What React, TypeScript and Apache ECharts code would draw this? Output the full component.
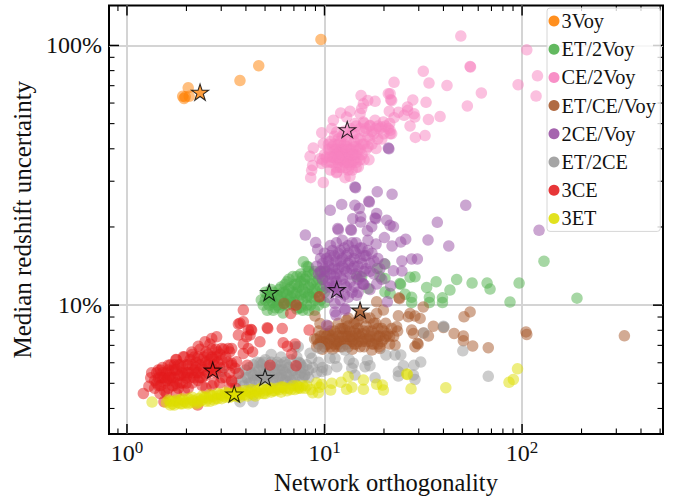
import React, { useEffect, useRef } from "react";
import * as echarts from "echarts";

// Readings from the picture, as [log10(orthogonality), log10(uncertainty %)]
const voy3 = [[.982,2.023],[.667,1.922],[.572,1.865],[.310,1.837],[.282,1.804],[.289,1.796],[.315,1.804],[.295,1.802]];
const et2voy = [[.68,1.02],[.69,1.00],[.70,1.05],[.71,.98],[.72,1.03],[.73,1.06],[.74,1.01],[.75,.99],[.76,1.04],[.77,1.02],[.78,1.07],[.79,1.00],[.80,1.05],[.81,1.09],[.82,1.02],[.83,1.07],[.84,1.00],[.84,1.11],[.85,1.04],[.86,1.08],[.87,1.02],[.88,1.12],[.88,.99],[.89,1.06],[.90,1.10],[.91,1.03],[.91,1.15],[.92,1.07],[.93,1.00],[.94,1.12],[.94,1.05],[.95,.98],[.96,1.09],[.97,1.03],[.98,1.13],[.99,1.06],[1.00,1.01],[.86,.985],[.79,.97],[.893,1.167],[.918,1.147],[1.267,1.141],[1.306,1.158],[1.281,1.109],[1.306,1.103],[1.382,1.083],[1.385,1.08],[1.433,1.107],[1.458,1.109],[1.565,1.090],[1.517,1.068],[1.669,1.099],[1.635,1.058],[1.531,1.030],[1.597,1.028],[1.441,1.030],[1.408,1.042],[1.306,1.051],[1.332,1.045],[1.188,1.109],[1.163,1.109],[1.222,1.064],[1.747,1.085],[1.823,1.085],[1.838,1.062],[1.939,1.012],[1.985,1.085],[2.278,1.027],[2.111,1.169],[1.441,1.01],[1.531,1.01],[1.597,1.01],
[.70,1.02],[.71,1.04],[.72,1.00],[.73,1.02],[.74,1.05],[.75,1.03],[.76,1.00],[.77,1.06],[.78,1.03],[.79,1.05],[.80,1.01],[.80,1.08],[.81,1.04],[.82,1.06],[.82,1.10],[.83,1.03],[.84,1.05],[.85,1.08],[.85,1.01],[.86,1.05],[.86,1.11],[.87,1.07],[.87,.99],[.88,1.04],[.88,1.09],[.89,1.02],[.89,1.11],[.90,1.05],[.90,1.08],[.91,1.00],[.91,1.11],[.92,1.04],[.92,1.13],[.93,1.08],[.93,1.03],[.94,1.09],[.95,1.02],[.95,1.06],[.95,1.13],[.96,1.05],[.97,1.00],[.97,1.10],[.98,1.07],[.98,1.02],[.99,1.10],[1.00,1.05],[1.00,1.13],[.83,1.01],[.81,1.00],[.77,.99],[.74,.98],[.92,.98],[.89,.98]];
const ce2voy = [[1.690,2.036],[2.024,1.983],[1.737,1.919],[1.739,1.917],[2.078,1.883],[1.980,1.849],[1.500,1.901],[1.529,1.855],[1.620,1.846],[1.352,1.858],[1.794,1.817],[2.071,1.805],[1.723,1.767],[1.447,1.790],[1.514,1.781],[1.420,1.763],[1.421,1.750],[1.374,1.743],[1.453,1.737],[1.457,1.724],[1.403,1.731],[1.352,1.722],[1.585,1.726],[1.526,1.715],[1.433,1.690],[1.509,1.653],[1.460,1.646],[1.340,1.788],[1.332,1.814],[1.340,1.660],[1.332,1.673],[1.323,1.814],[1.335,1.791],[1.185,1.807],[1.256,1.785],[1.219,1.788],[1.197,1.776],[1.188,1.757],[1.328,1.747],[1.180,1.737],[1.129,1.747],[1.082,1.740],[1.112,1.724],[1.045,1.712],[.986,1.664],[1.037,1.680],[1.332,1.660],[1.298,1.705],[1.256,1.712],[1.323,1.680],[1.290,1.686],[1.230,1.692],[1.197,1.705],[1.154,1.699],[1.062,1.667],[.943,1.605],[.927,1.573],[.977,1.564],[.940,1.538],[.935,1.519],[.930,1.491],[.994,1.472],[1.062,1.513],[1.104,1.491],[1.129,1.496],[1.171,1.532],[1.225,1.560],[1.261,1.603],[.994,1.622],[.986,1.545],[1.00,1.58],[1.02,1.62],[1.03,1.55],[1.05,1.60],[1.05,1.65],[1.06,1.56],[1.07,1.62],[1.08,1.53],[1.08,1.58],[1.09,1.65],[1.10,1.60],[1.10,1.55],[1.11,1.63],[1.12,1.57],[1.12,1.52],[1.13,1.60],[1.14,1.66],[1.14,1.55],[1.15,1.61],[1.16,1.58],[1.17,1.64],[1.18,1.56],[1.19,1.62],[1.20,1.67],[1.21,1.60],[1.22,1.65],[1.24,1.62],[1.25,1.66],[1.27,1.64],[1.03,1.59],[1.04,1.57],[1.07,1.59],[1.09,1.56],[1.11,1.58],[1.13,1.56],[1.15,1.58],[1.17,1.60],[1.01,1.55],[.99,1.56],[1.06,1.53],[1.10,1.67],[1.16,1.69],[1.13,1.68],[1.20,1.70],[1.23,1.69],[1.28,1.68],[1.30,1.66],[1.16,1.53],
[1.01,1.57],[1.02,1.60],[1.03,1.52],[1.04,1.55],[1.04,1.61],[1.05,1.57],[1.06,1.60],[1.06,1.51],[1.07,1.55],[1.07,1.64],[1.08,1.60],[1.08,1.56],[1.09,1.53],[1.09,1.60],[1.10,1.62],[1.10,1.58],[1.11,1.53],[1.11,1.56],[1.12,1.60],[1.12,1.64],[1.13,1.54],[1.13,1.58],[1.14,1.60],[1.14,1.52],[1.15,1.56],[1.15,1.63],[1.16,1.55],[1.16,1.61],[1.17,1.57],[1.18,1.60],[1.18,1.64],[1.19,1.58],[1.20,1.62],[1.20,1.56],[1.22,1.61],[1.23,1.64],[1.06,1.58],[1.03,1.57],[1.09,1.58],[1.12,1.55],[1.05,1.62],[1.07,1.57],[1.14,1.58],[1.11,1.61],[1.24,1.67],[1.26,1.68],[1.18,1.68],[1.15,1.66],[1.21,1.68],[1.08,1.63],[1.03,1.63],[1.29,1.64],[1.31,1.69],[1.27,1.69],[1.33,1.70]];
const etCeVoy = [[2.518,.882],[2.020,.897],[2.024,.887],[1.829,.836],[1.750,.843],[1.703,.881],[1.703,.863],[1.656,.891],[1.602,.914],[1.737,.974],[1.706,.955],[1.551,.919],[1.500,.893],[1.526,.881],[1.470,.853],[1.474,.850],[1.458,.840],[1.450,.891],[1.441,.904],[1.433,.968],[1.458,.958],[1.484,.949],[1.500,.993],[1.424,.955],[1.374,.959],[1.365,.917],[1.357,.846],[1.239,.827],[1.281,.833],[.952,.958],[.977,.929],[1.264,.968],[1.298,.981],[1.264,1.013],[1.112,.942],[1.377,1.028],[1.38,1.025],[.795,1.006],[.95,.87],[.96,.84],[.97,.90],[.98,.86],[.99,.83],[1.00,.89],[1.01,.85],[1.02,.92],[1.03,.87],[1.04,.83],[1.05,.90],[1.06,.86],[1.07,.93],[1.08,.84],[1.09,.88],[1.10,.91],[1.11,.85],[1.12,.95],[1.13,.87],[1.14,.83],[1.15,.90],[1.16,.93],[1.17,.86],[1.18,.96],[1.19,.89],[1.20,.84],[1.21,.92],[1.22,.87],[1.23,.95],[1.24,.90],[1.25,.85],[1.26,.93],[1.27,.88],[1.28,.84],[1.29,.91],[1.30,.87],[1.31,.93],[1.32,.89],[1.33,.85],[1.34,.91],[1.00,.86],[1.03,.90],[1.06,.84],[1.08,.91],[1.11,.88],[1.14,.86],[1.17,.89],[1.20,.87],[1.23,.86],[1.10,.86],[1.05,.85],[1.15,.85],
[.96,.87],[.97,.85],[.98,.88],[.99,.86],[1.00,.84],[1.01,.88],[1.02,.85],[1.02,.89],[1.03,.84],[1.04,.88],[1.05,.87],[1.06,.89],[1.07,.85],[1.07,.88],[1.08,.86],[1.09,.84],[1.09,.91],[1.10,.88],[1.11,.90],[1.12,.84],[1.12,.88],[1.13,.90],[1.14,.88],[1.15,.87],[1.16,.85],[1.16,.89],[1.17,.91],[1.18,.84],[1.18,.88],[1.19,.86],[1.20,.90],[1.21,.86],[1.22,.90],[1.23,.88],[1.24,.85],[1.25,.89],[1.26,.87],[1.27,.85],[1.27,.91],[1.28,.88],[1.29,.86],[1.30,.90],[1.31,.88],[1.33,.88],[1.12,.92],[1.17,.94],[1.21,.95],[1.25,.93],[1.15,.93],[1.35,.88],[1.37,.90]];
const ce2Voy2 = [[1.323,1.605],[1.326,1.602],[1.154,1.455],[1.157,1.452],[1.267,1.437],[1.342,1.427],[1.224,1.400],[1.227,1.397],[1.087,1.388],[1.029,1.365],[1.154,1.385],[1.176,1.372],[1.264,1.353],[1.256,1.336],[1.259,1.333],[1.143,1.333],[1.183,1.340],[1.183,1.320],[1.315,1.327],[1.332,1.308],[1.349,1.302],[1.571,1.319],[1.239,1.302],[1.217,1.286],[1.067,1.295],[1.070,1.290],[1.133,1.291],[1.136,1.288],[.903,1.270],[1.303,1.260],[1.524,1.251],[1.629,1.228],[1.411,1.254],[1.386,1.243],[1.342,1.228],[.955,1.241],[.965,1.215],[1.261,1.235],[1.392,1.170],[1.441,1.178],[1.470,1.178],[1.349,1.132],[1.392,1.131],[1.303,1.159],[1.335,1.074],[1.264,1.081],[1.318,1.013],[1.193,1.083],[1.196,1.080],[1.163,1.038],[1.053,1.006],[1.053,.974],[1.104,.981],[2.086,1.288],[1.715,1.385],[1.011,.923],[1.104,.987],[1.058,.962],[.96,1.15],[.97,1.12],[.98,1.18],[.99,1.10],[1.00,1.14],[1.00,1.20],[1.01,1.07],[1.02,1.17],[1.03,1.12],[1.03,1.23],[1.04,1.09],[1.05,1.19],[1.05,1.15],[1.06,1.24],[1.06,1.12],[1.07,1.05],[1.08,1.17],[1.08,1.21],[1.09,1.10],[1.09,1.25],[1.10,1.14],[1.11,1.19],[1.11,1.07],[1.12,1.23],[1.13,1.12],[1.13,1.17],[1.14,1.05],[1.15,1.21],[1.15,1.15],[1.16,1.24],[1.17,1.10],[1.18,1.18],[1.19,1.22],[1.20,1.13],[1.20,1.08],[1.21,1.19],[1.22,1.25],[1.23,1.16],[1.24,1.20],[1.25,1.12],[1.27,1.18],[1.28,1.14],[1.29,1.10],[1.02,1.03],[1.08,1.02],[1.12,1.03],[1.17,1.05],[1.23,1.06],
[.98,1.13],[.99,1.16],[1.00,1.11],[1.01,1.18],[1.01,1.13],[1.02,1.09],[1.02,1.15],[1.03,1.19],[1.04,1.14],[1.04,1.21],[1.05,1.11],[1.05,1.07],[1.06,1.17],[1.07,1.14],[1.07,1.20],[1.08,1.11],[1.09,1.15],[1.09,1.18],[1.10,1.22],[1.10,1.08],[1.11,1.13],[1.12,1.16],[1.12,1.20],[1.13,1.09],[1.14,1.14],[1.14,1.24],[1.15,1.18],[1.16,1.12],[1.16,1.20],[1.17,1.15],[1.18,1.22],[1.18,1.11],[1.19,1.16],[1.20,1.19],[1.21,1.14],[1.22,1.21],[1.23,1.13],[1.25,1.17],[1.03,1.07],[1.06,1.09],[1.15,1.07],[1.10,1.04]];
const et2ce = [[1.700,.824],[1.829,.726],[1.602,.919],[1.605,.916],[1.504,.893],[1.487,.781],[1.453,.769],[1.399,.767],[1.458,.714],[1.450,.731],[1.374,.744],[1.374,.727],[1.386,.808],[1.357,.808],[1.311,.808],[1.256,.720],[1.217,.788],[1.205,.763],[1.230,.767],[1.154,.731],[1.146,.776],[1.125,.79],[1.138,.757],[1.053,.795],[1.062,.763],[1.028,.795],[1.011,.750],[.986,.744],[.935,.795],[.918,.750],[.901,.731],[.876,.776],[1.104,.827],[.977,.833],[.851,.840],[.60,.72],[.62,.76],[.63,.70],[.65,.74],[.66,.78],[.67,.71],[.69,.75],[.70,.79],[.71,.72],[.72,.76],[.73,.81],[.74,.70],[.75,.74],[.76,.78],[.77,.72],[.78,.80],[.79,.75],[.80,.71],[.81,.77],[.82,.73],[.83,.79],[.84,.71],[.85,.75],[.86,.80],[.87,.73],[.88,.77],[.89,.72],[.63,.74],[.66,.73],[.68,.77],[.70,.74],[.74,.76],[.77,.75],[.80,.74],[.57,.74],[.59,.69],[.55,.70],[.572,.628],[.638,.628],[.479,.744],[.673,.777],[.867,.840],[.927,.815],
[.58,.71],[.60,.75],[.61,.72],[.62,.70],[.64,.73],[.64,.77],[.65,.71],[.67,.75],[.68,.72],[.69,.78],[.70,.71],[.71,.76],[.72,.73],[.73,.78],[.74,.72],[.75,.77],[.76,.71],[.76,.75],[.78,.73],[.78,.77],[.79,.71],[.80,.78],[.81,.73],[.82,.76],[.83,.71],[.84,.75],[.85,.72],[.86,.76],[.87,.78],[.88,.74],[.89,.76],[.90,.73],[.91,.77],[.92,.72],[.94,.76],[.96,.74],[.97,.78],[.99,.76]];
const ce3 = [[.974,1.032],[.856,1.000],[.829,.968],[.710,.913],[.713,.910],[.786,.910],[.673,.859],[.791,.855],[.851,.850],[.812,.842],[.834,.812],[.922,.904],[.631,.904],[.623,.885],[.724,.769],[.856,.767],[.609,.769],[.572,.930],[.564,.885],[.614,.904],[.606,.878],[.589,.850],[.636,.820],[.614,.833],[.589,.814],[.555,.782],[.530,.769],[.564,.737],[.530,.705],[.530,.833],[.589,.981],[.589,.936],[.564,.927],[.628,.906],[.083,.660],[.111,.688],[.125,.740],[.167,.660],[.187,.628],[.358,.615],[.454,.878],[.429,.872],[.395,.859],[.361,.842],[.328,.820],[.285,.801],[.248,.791],[.209,.769],[.158,.750],[.513,.833],[.479,.833],[.530,.776],[.547,.757],[.14,.71],[.15,.74],[.16,.69],[.17,.72],[.18,.76],[.19,.70],[.20,.74],[.21,.68],[.22,.77],[.23,.72],[.24,.75],[.24,.69],[.25,.79],[.26,.73],[.27,.77],[.28,.70],[.29,.80],[.30,.74],[.31,.77],[.31,.68],[.32,.72],[.33,.81],[.34,.75],[.35,.78],[.36,.71],[.37,.83],[.38,.76],[.39,.80],[.40,.73],[.41,.77],[.42,.85],[.43,.80],[.44,.75],[.45,.83],[.46,.78],[.47,.81],[.48,.72],[.49,.76],[.50,.80],[.52,.74],[.53,.71],[.47,.70],[.43,.69],[.40,.68],[.26,.68],[.28,.74],[.22,.71],[.18,.72],[.15,.70],[.35,.74],[.33,.77],[.38,.72],[.44,.79],[.41,.81],[.50,.72],[.55,.68],[.52,.68],[.25,.66],[.20,.66],[.30,.72],
[.12,.72],[.14,.68],[.16,.72],[.17,.69],[.18,.74],[.19,.67],[.19,.72],[.20,.71],[.21,.75],[.22,.73],[.23,.75],[.23,.69],[.24,.72],[.25,.75],[.25,.70],[.26,.77],[.27,.73],[.27,.70],[.28,.76],[.29,.73],[.29,.67],[.30,.77],[.30,.70],[.31,.74],[.32,.79],[.33,.74],[.34,.72],[.34,.80],[.35,.76],[.36,.74],[.36,.80],[.37,.77],[.37,.72],[.38,.79],[.39,.75],[.40,.78],[.40,.82],[.41,.74],[.42,.79],[.42,.76],[.43,.83],[.44,.77],[.45,.80],[.45,.74],[.46,.82],[.47,.76],[.48,.79],[.49,.83],[.51,.78],[.52,.82],[.33,.70],[.24,.77],[.21,.72],[.17,.75],[.44,.70],[.38,.69]];
const et3 = [[.127,.627],[.20,.625],[.22,.63],[.23,.62],[.24,.63],[.26,.625],[.27,.635],[.28,.62],[.29,.63],[.31,.64],[.32,.625],[.33,.635],[.35,.62],[.36,.64],[.37,.63],[.39,.645],[.40,.63],[.41,.64],[.43,.65],[.44,.635],[.45,.64],[.47,.655],[.48,.64],[.49,.65],[.51,.66],[.52,.645],[.54,.655],[.55,.665],[.56,.65],[.58,.66],[.59,.67],[.60,.655],[.62,.665],[.63,.675],[.64,.655],[.66,.665],[.67,.675],[.69,.66],[.70,.67],[.72,.68],[.73,.665],[.75,.67],[.76,.68],[.78,.665],[.79,.685],[.81,.67],[.82,.68],[.84,.69],[.85,.675],[.87,.685],[.89,.69],[1.977,.755],[1.956,.714],[1.934,.703],[1.614,.682],[1.438,.678],[1.416,.735],[1.42,.733],[1.298,.673],[1.293,.692],[1.264,.695],[1.197,.676],[1.197,.712],[1.120,.724],[1.138,.684],[1.112,.676],[1.084,.703],[1.037,.699],[1.031,.673],[.986,.695],[.969,.663],[.940,.663],[.974,.684],[.901,.680],[.867,.680],
[.21,.635],[.22,.615],[.24,.615],[.25,.635],[.27,.62],[.28,.64],[.30,.625],[.31,.62],[.33,.645],[.34,.63],[.36,.625],[.38,.635],[.38,.65],[.40,.645],[.42,.63],[.42,.655],[.44,.65],[.46,.64],[.46,.66],[.48,.655],[.50,.645],[.50,.665],[.52,.66],[.53,.65],[.55,.65],[.57,.665],[.57,.645],[.59,.655],[.61,.67],[.61,.65],[.63,.66],[.65,.67],[.65,.65],[.67,.66],[.68,.68],[.70,.66],[.71,.675],[.73,.68],[.74,.67],[.77,.675],[.78,.685],[.80,.68],[.83,.675],[.86,.69],[.88,.68],[.91,.69],[.93,.675],[.96,.70]];

const starReadings = [[.370,1.820],[.72,1.049],[1.115,1.676],[1.18,.981],[1.062,1.060],[.699,.722],[.434,.75],[.543,.658]];
const seriesNames = ["3Voy","ET/2Voy","CE/2Voy","ET/CE/Voy","2CE/Voy","ET/2CE","3CE","3ET"];
const seriesColors = ["#ff7f00","#4daf4a","#f781bf","#a65628","#984ea3","#999999","#e41a1c","#dede00"];
const seriesReadings = [voy3, et2voy, ce2voy, etCeVoy, ce2Voy2, et2ce, ce3, et3];

const xRange = [0.811, 517];
const yRange = [3.19, 142.5];
const xMajorTicks = [1, 10, 100];
const xMinorTicks = [.9,2,3,4,5,6,7,8,9,20,30,40,50,60,70,80,90,200,300,400,500];
const yMajorTicks = [10, 100];
const yMinorTicks = [4,5,6,7,8,9,20,30,40,50,60,70,80,90];

const FONT = '"Liberation Serif","Times New Roman",serif';
const STAR = "path://M0 -1L.224 -.309L.951 -.309L.363 .118L.588 .809L0 .382L-.588 .809L-.363 .118L-.951 -.309L-.224 -.309Z";

const fromLog = (pts: number[][]) => pts.map(([a, b]) => [10 ** a, 10 ** b]);
const rgba = (hex: string, a: number) => {
  const n = parseInt(hex.slice(1), 16);
  return `rgba(${n >> 16},${(n >> 8) & 255},${n & 255},${a})`;
};

function tickRender(params: any, api: any) {
  const isX = params.seriesName === "xticks";
  const len = api.value(2);
  const w = len > 6 ? 1.5 : 1.1;
  const style = { stroke: "#000", lineWidth: w };
  const line = (x1: number, y1: number, x2: number, y2: number) => ({ type: "line", shape: { x1, y1, x2, y2 }, style });
  if (isX) {
    const a = api.coord([api.value(0), yRange[0]]);
    const b = api.coord([api.value(0), yRange[1]]);
    return { type: "group", children: [line(a[0], a[1], a[0], a[1] - len), line(b[0], b[1], b[0], b[1] + len)] };
  }
  const a = api.coord([xRange[0], api.value(1)]);
  const b = api.coord([xRange[1], api.value(1)]);
  return { type: "group", children: [line(a[0], a[1], a[0] + len, a[1]), line(b[0], b[1], b[0] - len, b[1])] };
}

export default function App() {
  const ref = useRef<HTMLDivElement>(null);
  useEffect(() => {
    document.body.style.margin = "0";
    const chart = echarts.init(ref.current!, undefined, { renderer: "svg" });
    const supFmt = (v: number) => `{b|10}{s|${Math.round(Math.log10(v))}}`;
    chart.setOption({
      animation: false,
      grid: { left: 109, right: 17, top: 5.5, bottom: 64, show: true, borderColor: "#000", borderWidth: 2, backgroundColor: "transparent", outerBoundsMode: "none" },
      xAxis: {
        type: "log", logBase: 10, min: xRange[0], max: xRange[1],
        name: "Network orthogonality", nameLocation: "middle", nameGap: 31,
        nameTextStyle: { fontFamily: FONT, fontSize: 24.5, color: "#111" },
        axisLine: { show: false }, axisTick: { show: false }, minorTick: { show: false },
        splitLine: { show: true, showMinLine: false, showMaxLine: false, lineStyle: { color: "#d4d4d4", width: 2 } },
        axisLabel: {
          showMinLabel: false, showMaxLabel: false, margin: 5, formatter: supFmt,
          rich: {
            b: { fontFamily: FONT, fontSize: 24, color: "#111", lineHeight: 26, verticalAlign: "bottom" },
            s: { fontFamily: FONT, fontSize: 17, color: "#111", lineHeight: 26, verticalAlign: "top" },
          },
        },
      },
      yAxis: {
        type: "log", logBase: 10, min: yRange[0], max: yRange[1],
        name: "Median redshift uncertainty", nameLocation: "middle", nameGap: 71,
        nameTextStyle: { fontFamily: FONT, fontSize: 25, color: "#111" },
        axisLine: { show: false }, axisTick: { show: false }, minorTick: { show: false },
        splitLine: { show: true, showMinLine: false, showMaxLine: false, lineStyle: { color: "#d4d4d4", width: 2 } },
        axisLabel: {
          showMinLabel: false, showMaxLabel: false, margin: 7,
          fontFamily: FONT, fontSize: 24, color: "#111",
          formatter: (v: number) => `${Math.round(v)}%`,
        },
      },
      legend: {
        orient: "vertical", left: 547, top: 8,
        padding: [3, 4.5, 3, 1.5], itemGap: 8.2, itemWidth: 11, itemHeight: 11, itemStyle: { borderWidth: 0 },
        icon: "circle",
        backgroundColor: "rgba(255,255,255,0.8)", borderColor: "#d6d6d6", borderWidth: 1, borderRadius: 3,
        textStyle: { fontFamily: FONT, fontSize: 20.3, color: "#111", lineHeight: 20, height: 20, padding: [0, 0, 0, -3] },
        data: seriesNames.map((name, i) => ({ name, itemStyle: { color: seriesColors[i], opacity: 0.88 } })),
      },
      series: [
        ...seriesNames.map((name, i) => ({
          name, type: "scatter", symbol: "circle", symbolSize: 11.5, z: 2,
          itemStyle: { color: seriesColors[i], opacity: 0.5, borderWidth: 0 },
          emphasis: { disabled: true },
          data: fromLog(seriesReadings[i]),
        })),
        ...seriesNames.map((name, i) => ({
          name: "star " + name, type: "scatter", symbol: STAR, symbolSize: 17, symbolKeepAspect: true, z: 3,
          itemStyle: { color: rgba(seriesColors[i], i === 2 ? 0.3 : 0.95), borderColor: "#000", borderWidth: 1.1 },
          data: fromLog([starReadings[i]]),
        })),
        {
          name: "xticks", type: "custom", renderItem: tickRender, z: 1, silent: true,
          data: [...xMajorTicks.map((v) => [v, yRange[0], 10]), ...xMinorTicks.map((v) => [v, yRange[0], 5.5])],
        },
        {
          name: "yticks", type: "custom", renderItem: tickRender, z: 1, silent: true,
          data: [...yMajorTicks.map((v) => [xRange[0], v, 10]), ...yMinorTicks.map((v) => [xRange[0], v, 5.5])],
        },
      ],
    });
    return () => chart.dispose();
  }, []);
  return <div ref={ref} style={{ width: 680, height: 498 }} />;
}
